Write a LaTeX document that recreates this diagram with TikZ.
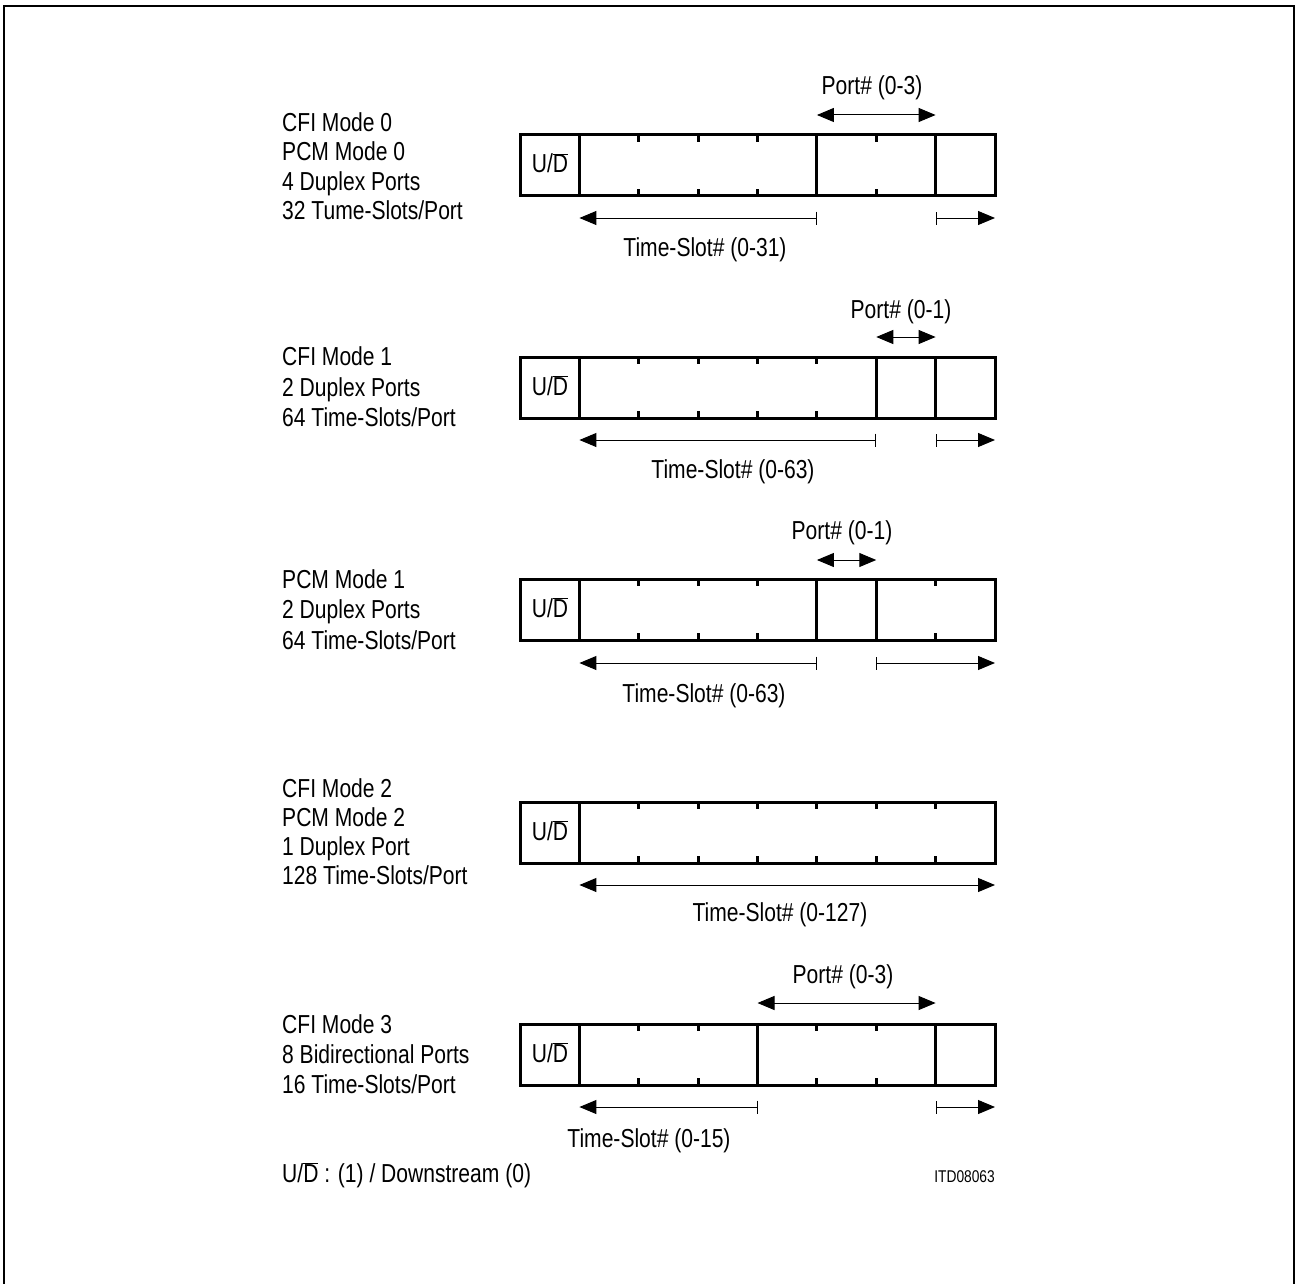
\documentclass[tikz,border=0pt]{standalone}
\usepackage{fontspec}
\setmainfont{Liberation Sans}[FakeStretch=0.81]
\usetikzlibrary{arrows.meta}
\newcommand{\UD}{U/$\overline{\mbox{D}}$}
\newcommand{\slotrow}[4]{%
  \draw[frm] (520,#1) rectangle (995,#1+61);
  \foreach \i in {#3} {\draw[frm] ({520+59.375*\i},#1) -- ({520+59.375*\i},#1+61);}
  \foreach \i in {#4} {%
    \draw[tck] ({520+59.375*\i},#1) -- ({520+59.375*\i},#1+7);
    \draw[tck] ({520+59.375*\i},#1+61) -- ({520+59.375*\i},#1+54);}
  \node[txt, anchor=base] (ud#2) at (550,#1+38) {\UD};
}
\begin{document}
\begin{tikzpicture}[x=1pt,y=-1pt,
  frm/.style={line width=3pt},
  tck/.style={line width=3pt},
  thinln/.style={line width=1pt},
  tri/.tip={Triangle[length=17pt,width=14pt]},
  barr/.tip={Bar[width=13pt]},
  darr/.style={thinln,tri-tri},
  larr/.style={thinln,tri-barr},
  rarr/.style={thinln,barr-tri},
  farr/.style={thinln,tri-tri},
  txt/.style={font=\fontsize{26}{30}\selectfont, inner sep=0pt},
  small/.style={font=\fontsize{17}{20}\selectfont, inner sep=0pt}]
\useasboundingbox (0,0) rectangle (1295,1284);
\clip (0,0) rectangle (1295,1284);
\draw[line width=2pt] (4,6) rectangle (1294,1330);

% ---------- Row 1 ----------
\node[txt, anchor=base west] (r1a) at (282,132) {CFI Mode 0};
\node[txt, anchor=base west] (r1b) at (282,161) {PCM Mode 0};
\node[txt, anchor=base west] (r1c) at (282,190) {4 Duplex Ports};
\node[txt, anchor=base west] (r1d) at (282,219) {32 Tume-Slots/Port};
\slotrow{135}{1}{1,5,7}{2,3,4,6}
\coordinate (p1l) at (816.9,115); \coordinate (p1r) at (935.6,115);
\draw[darr] (p1l) -- (p1r);
\node[txt, anchor=base] (p1t) at (872,95) {Port\# (0-3)};
\coordinate (t1a) at (579.4,218); \coordinate (t1b) at (816.9,218);
\coordinate (t1c) at (935.6,218); \coordinate (t1d) at (995,218);
\draw[larr] (t1a) -- (t1b);
\draw[rarr] (t1c) -- (t1d);
\node[txt, anchor=base] (t1t) at (705,256) {Time-Slot\# (0-31)};

% ---------- Row 2 ----------
\node[txt, anchor=base west] (r2a) at (282,365) {CFI Mode 1};
\node[txt, anchor=base west] (r2b) at (282,396) {2 Duplex Ports};
\node[txt, anchor=base west] (r2c) at (282,426) {64 Time-Slots/Port};
\slotrow{357}{2}{1,6,7}{2,3,4,5}
\coordinate (p2l) at (876.25,337); \coordinate (p2r) at (935.6,337);
\draw[darr] (p2l) -- (p2r);
\node[txt, anchor=base] (p2t) at (901,318) {Port\# (0-1)};
\coordinate (t2a) at (579.4,440); \coordinate (t2b) at (876.25,440);
\coordinate (t2c) at (935.6,440); \coordinate (t2d) at (995,440);
\draw[larr] (t2a) -- (t2b);
\draw[rarr] (t2c) -- (t2d);
\node[txt, anchor=base] (t2t) at (733,478) {Time-Slot\# (0-63)};

% ---------- Row 3 ----------
\node[txt, anchor=base west] (r3a) at (282,588) {PCM Mode 1};
\node[txt, anchor=base west] (r3b) at (282,618) {2 Duplex Ports};
\node[txt, anchor=base west] (r3c) at (282,649) {64 Time-Slots/Port};
\slotrow{579}{3}{1,5,6}{2,3,4,7}
\coordinate (p3l) at (816.9,560); \coordinate (p3r) at (876.25,560);
\draw[darr] (p3l) -- (p3r);
\node[txt, anchor=base] (p3t) at (842,539) {Port\# (0-1)};
\coordinate (t3a) at (579.4,663); \coordinate (t3b) at (816.9,663);
\coordinate (t3c) at (876.25,663); \coordinate (t3d) at (995,663);
\draw[larr] (t3a) -- (t3b);
\draw[rarr] (t3c) -- (t3d);
\node[txt, anchor=base] (t3t) at (704,702) {Time-Slot\# (0-63)};

% ---------- Row 4 ----------
\node[txt, anchor=base west] (r4a) at (282,797) {CFI Mode 2};
\node[txt, anchor=base west] (r4b) at (282,826) {PCM Mode 2};
\node[txt, anchor=base west] (r4c) at (282,855) {1 Duplex Port};
\node[txt, anchor=base west] (r4d) at (282,884) {128 Time-Slots/Port};
\slotrow{802}{4}{1}{2,3,4,5,6,7}
\coordinate (t4a) at (579.4,885); \coordinate (t4d) at (995,885);
\draw[farr] (t4a) -- (t4d);
\node[txt, anchor=base] (t4t) at (780,921) {Time-Slot\# (0-127)};

% ---------- Row 5 ----------
\node[txt, anchor=base west] (r5a) at (282,1033) {CFI Mode 3};
\node[txt, anchor=base west] (r5b) at (282,1063) {8 Bidirectional Ports};
\node[txt, anchor=base west] (r5c) at (282,1093) {16 Time-Slots/Port};
\slotrow{1024}{5}{1,4,7}{2,3,5,6}
\coordinate (p5l) at (757.5,1003); \coordinate (p5r) at (935.6,1003);
\draw[darr] (p5l) -- (p5r);
\node[txt, anchor=base] (p5t) at (843,983) {Port\# (0-3)};
\coordinate (t5a) at (579.4,1107); \coordinate (t5b) at (757.5,1107);
\coordinate (t5c) at (935.6,1107); \coordinate (t5d) at (995,1107);
\draw[larr] (t5a) -- (t5b);
\draw[rarr] (t5c) -- (t5d);
\node[txt, anchor=base] (t5t) at (649,1147) {Time-Slot\# (0-15)};

% ---------- Footer ----------
\node[txt, anchor=base west] (legend) at (282,1182) {\UD\ : (1) / Downstream (0)};
\node[small, anchor=base east] (itd) at (995,1182) {ITD08063};
\end{tikzpicture}
\end{document}
